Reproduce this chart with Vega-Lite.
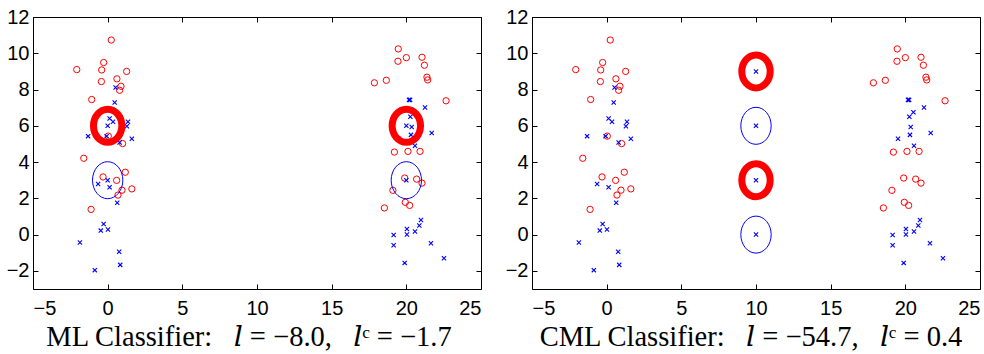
{
  "$schema": "https://vega.github.io/schema/vega-lite/v6.json",
  "padding": {"left": 5, "top": 6, "right": 6, "bottom": 1},
  "background": "white",
  "spacing": 22,
  "config": {
    "view": {"stroke": "black", "strokeWidth": 1},
    "axis": {
      "grid": false,
      "domain": false,
      "ticks": true,
      "tickColor": "black",
      "tickSize": -5,
      "labelFont": "Liberation Sans Narrow, Liberation Sans",
      "labelFontSize": 20,
      "labelColor": "black",
      "title": null
    },
    "title": {
      "font": "Liberation Serif, DejaVu Serif",
      "fontSize": 28.5,
      "fontWeight": "normal",
      "color": "black",
      "orient": "bottom",
      "anchor": "middle"
    }
  },
  "datasets": {
    "pts": [
      {"x": 0.24, "y": 10.73, "c": "o"}, {"x": -2.07, "y": 9.1, "c": "o"}, {"x": -0.27, "y": 9.49, "c": "o"},
      {"x": -0.4, "y": 9.08, "c": "o"}, {"x": 1.27, "y": 9.0, "c": "o"}, {"x": -0.42, "y": 8.44, "c": "o"},
      {"x": 0.62, "y": 8.59, "c": "o"}, {"x": 0.89, "y": 8.18, "c": "o"}, {"x": 0.8, "y": 7.96, "c": "o"},
      {"x": -1.07, "y": 7.45, "c": "o"}, {"x": 0.04, "y": 5.43, "c": "o"}, {"x": 1.0, "y": 5.02, "c": "o"},
      {"x": -1.6, "y": 4.21, "c": "o"}, {"x": 1.18, "y": 3.44, "c": "o"}, {"x": -0.31, "y": 3.18, "c": "o"},
      {"x": 0.6, "y": 2.99, "c": "o"}, {"x": 0.96, "y": 2.45, "c": "o"}, {"x": 0.69, "y": 2.18, "c": "o"},
      {"x": 1.62, "y": 2.52, "c": "o"}, {"x": -1.11, "y": 1.39, "c": "o"},
      {"x": 0.53, "y": 8.11, "c": "x"}, {"x": 0.47, "y": 7.28, "c": "x"}, {"x": 0.13, "y": 6.4, "c": "x"},
      {"x": 0.36, "y": 6.22, "c": "x"}, {"x": 1.36, "y": 6.22, "c": "x"}, {"x": 1.29, "y": 5.98, "c": "x"},
      {"x": -1.31, "y": 5.43, "c": "x"}, {"x": -0.07, "y": 5.43, "c": "x"}, {"x": 1.62, "y": 5.28, "c": "x"},
      {"x": 0.8, "y": 5.08, "c": "x"}, {"x": -0.64, "y": 2.79, "c": "x"}, {"x": 0.13, "y": 2.61, "c": "x"},
      {"x": 0.64, "y": 1.76, "c": "x"}, {"x": -0.27, "y": 0.59, "c": "x"}, {"x": -0.46, "y": 0.22, "c": "x"},
      {"x": 0.02, "y": 0.28, "c": "x"}, {"x": -1.86, "y": -0.44, "c": "x"}, {"x": 0.77, "y": -0.95, "c": "x"},
      {"x": 0.84, "y": -1.67, "c": "x"}, {"x": -0.86, "y": -1.96, "c": "x"},
      {"x": 19.46, "y": 10.24, "c": "o"}, {"x": 20.0, "y": 9.76, "c": "o"}, {"x": 19.44, "y": 9.56, "c": "o"},
      {"x": 21.05, "y": 9.78, "c": "o"}, {"x": 21.21, "y": 9.34, "c": "o"}, {"x": 21.38, "y": 8.68, "c": "o"},
      {"x": 21.43, "y": 8.53, "c": "o"}, {"x": 18.66, "y": 8.51, "c": "o"}, {"x": 17.86, "y": 8.37, "c": "o"},
      {"x": 22.66, "y": 7.38, "c": "o"}, {"x": 19.2, "y": 4.55, "c": "o"}, {"x": 20.11, "y": 4.59, "c": "o"},
      {"x": 20.92, "y": 4.59, "c": "o"}, {"x": 19.89, "y": 3.12, "c": "o"}, {"x": 20.69, "y": 3.06, "c": "o"},
      {"x": 21.05, "y": 2.84, "c": "o"}, {"x": 19.1, "y": 2.44, "c": "o"}, {"x": 19.93, "y": 1.78, "c": "o"},
      {"x": 20.22, "y": 1.61, "c": "o"}, {"x": 18.53, "y": 1.47, "c": "o"},
      {"x": 20.18, "y": 7.43, "c": "x"}, {"x": 20.25, "y": 7.43, "c": "x"}, {"x": 21.25, "y": 7.01, "c": "x"},
      {"x": 20.54, "y": 6.75, "c": "x"}, {"x": 20.27, "y": 6.5, "c": "x"}, {"x": 20.36, "y": 5.93, "c": "x"},
      {"x": 20.31, "y": 5.5, "c": "x"}, {"x": 21.7, "y": 5.6, "c": "x"}, {"x": 19.51, "y": 5.28, "c": "x"},
      {"x": 20.58, "y": 4.9, "c": "x"}, {"x": 20.98, "y": 0.81, "c": "x"}, {"x": 20.87, "y": 0.5, "c": "x"},
      {"x": 20.04, "y": 0.31, "c": "x"}, {"x": 20.58, "y": 0.17, "c": "x"}, {"x": 20.04, "y": 0.0, "c": "x"},
      {"x": 19.15, "y": -0.02, "c": "x"}, {"x": 19.15, "y": -0.59, "c": "x"}, {"x": 21.65, "y": -0.48, "c": "x"},
      {"x": 19.89, "y": -1.56, "c": "x"}, {"x": 22.52, "y": -1.3, "c": "x"}
    ],
    "centres": [
      {"panel": "ML", "x": 0, "y": 6, "c": "o"}, {"panel": "ML", "x": 20, "y": 6, "c": "o"},
      {"panel": "ML", "x": 0, "y": 3, "c": "x"}, {"panel": "ML", "x": 20, "y": 3, "c": "x"},
      {"panel": "CML", "x": 10, "y": 9, "c": "o"}, {"panel": "CML", "x": 10, "y": 3, "c": "o"},
      {"panel": "CML", "x": 10, "y": 6, "c": "x"}, {"panel": "CML", "x": 10, "y": 0, "c": "x"}
    ]
  },
  "hconcat": [
    {
      "width": 448,
      "height": 272,
      "title": {"text": "ML Classifier:\u2002 𝑙 = −8.0,\u2002 𝑙ᶜ = −1.7", "dx": -8, "offset": 5},
      "resolve": {"axis": {"x": "independent", "y": "independent"}},
      "layer": [
        {
          "data": {"name": "pts"},
          "transform": [{"filter": "datum.c === 'o'"}],
          "mark": {"type": "point", "shape": "circle", "filled": false, "stroke": "#ff0000", "strokeWidth": 1, "size": 40, "opacity": 1},
          "encoding": {
            "x": {"field": "x", "type": "quantitative", "scale": {"domain": [-5, 25], "nice": false, "zero": false}, "axis": {"orient": "bottom", "values": [-5, 0, 5, 10, 15, 20, 25], "labelPadding": 14}},
            "y": {"field": "y", "type": "quantitative", "scale": {"domain": [-3, 12], "nice": false, "zero": false}, "axis": {"orient": "left", "values": [-2, 0, 2, 4, 6, 8, 10, 12], "labelPadding": 9}}
          }
        },
        {
          "data": {"name": "pts"},
          "transform": [{"filter": "datum.c === 'x'"}],
          "mark": {"type": "point", "shape": "M-1,-1L1,1M-1,1L1,-1", "filled": false, "stroke": "#0000ff", "strokeWidth": 1.1, "size": 18, "opacity": 1},
          "encoding": {
            "x": {"field": "x", "type": "quantitative", "scale": {"domain": [-5, 25], "nice": false, "zero": false}, "axis": {"orient": "top", "values": [-5, 0, 5, 10, 15, 20, 25], "labels": false}},
            "y": {"field": "y", "type": "quantitative", "scale": {"domain": [-3, 12], "nice": false, "zero": false}, "axis": {"orient": "right", "values": [-2, 0, 2, 4, 6, 8, 10, 12], "labels": false}}
          }
        },
        {
          "data": {"name": "centres"},
          "transform": [{"filter": "datum.panel === 'ML' && datum.c === 'o'"}],
          "mark": {"type": "point", "shape": "M-0.86,0A0.86,1,0,1,0,0.86,0A0.86,1,0,1,0,-0.86,0Z", "filled": false, "stroke": "#ff0000", "strokeWidth": 7, "size": 1089, "opacity": 1},
          "encoding": {
            "x": {"field": "x", "type": "quantitative", "axis": null},
            "y": {"field": "y", "type": "quantitative", "axis": null}
          }
        },
        {
          "data": {"name": "centres"},
          "transform": [{"filter": "datum.panel === 'ML' && datum.c === 'x'"}],
          "mark": {"type": "point", "shape": "M-0.82,0A0.82,1,0,1,0,0.82,0A0.82,1,0,1,0,-0.82,0Z", "filled": false, "stroke": "#0000ff", "strokeWidth": 1, "size": 1369, "opacity": 1},
          "encoding": {
            "x": {"field": "x", "type": "quantitative", "axis": null},
            "y": {"field": "y", "type": "quantitative", "axis": null}
          }
        },
        {
          "data": {"name": "centres"},
          "transform": [{"filter": "datum.panel === 'ML'"}],
          "mark": {"type": "point", "shape": "M-1,-1L1,1M-1,1L1,-1", "filled": false, "stroke": "#0000ff", "strokeWidth": 1.1, "size": 18, "opacity": 1},
          "encoding": {
            "x": {"field": "x", "type": "quantitative", "axis": null},
            "y": {"field": "y", "type": "quantitative", "axis": null}
          }
        }
      ]
    },
    {
      "width": 448,
      "height": 272,
      "title": {"text": "CML Classifier:\u2002 𝑙 = −54.7,\u2002 𝑙ᶜ = 0.4", "dx": -5, "offset": 5},
      "resolve": {"axis": {"x": "independent", "y": "independent"}},
      "layer": [
        {
          "data": {"name": "pts"},
          "transform": [{"filter": "datum.c === 'o'"}],
          "mark": {"type": "point", "shape": "circle", "filled": false, "stroke": "#ff0000", "strokeWidth": 1, "size": 40, "opacity": 1},
          "encoding": {
            "x": {"field": "x", "type": "quantitative", "scale": {"domain": [-5, 25], "nice": false, "zero": false}, "axis": {"orient": "bottom", "values": [-5, 0, 5, 10, 15, 20, 25], "labelPadding": 14}},
            "y": {"field": "y", "type": "quantitative", "scale": {"domain": [-3, 12], "nice": false, "zero": false}, "axis": {"orient": "left", "values": [-2, 0, 2, 4, 6, 8, 10, 12], "labelPadding": 9}}
          }
        },
        {
          "data": {"name": "pts"},
          "transform": [{"filter": "datum.c === 'x'"}],
          "mark": {"type": "point", "shape": "M-1,-1L1,1M-1,1L1,-1", "filled": false, "stroke": "#0000ff", "strokeWidth": 1.1, "size": 18, "opacity": 1},
          "encoding": {
            "x": {"field": "x", "type": "quantitative", "scale": {"domain": [-5, 25], "nice": false, "zero": false}, "axis": {"orient": "top", "values": [-5, 0, 5, 10, 15, 20, 25], "labels": false}},
            "y": {"field": "y", "type": "quantitative", "scale": {"domain": [-3, 12], "nice": false, "zero": false}, "axis": {"orient": "right", "values": [-2, 0, 2, 4, 6, 8, 10, 12], "labels": false}}
          }
        },
        {
          "data": {"name": "centres"},
          "transform": [{"filter": "datum.panel === 'CML' && datum.c === 'o'"}],
          "mark": {"type": "point", "shape": "M-0.86,0A0.86,1,0,1,0,0.86,0A0.86,1,0,1,0,-0.86,0Z", "filled": false, "stroke": "#ff0000", "strokeWidth": 7, "size": 1089, "opacity": 1},
          "encoding": {
            "x": {"field": "x", "type": "quantitative", "axis": null},
            "y": {"field": "y", "type": "quantitative", "axis": null}
          }
        },
        {
          "data": {"name": "centres"},
          "transform": [{"filter": "datum.panel === 'CML' && datum.c === 'x'"}],
          "mark": {"type": "point", "shape": "M-0.82,0A0.82,1,0,1,0,0.82,0A0.82,1,0,1,0,-0.82,0Z", "filled": false, "stroke": "#0000ff", "strokeWidth": 1, "size": 1369, "opacity": 1},
          "encoding": {
            "x": {"field": "x", "type": "quantitative", "axis": null},
            "y": {"field": "y", "type": "quantitative", "axis": null}
          }
        },
        {
          "data": {"name": "centres"},
          "transform": [{"filter": "datum.panel === 'CML'"}],
          "mark": {"type": "point", "shape": "M-1,-1L1,1M-1,1L1,-1", "filled": false, "stroke": "#0000ff", "strokeWidth": 1.1, "size": 18, "opacity": 1},
          "encoding": {
            "x": {"field": "x", "type": "quantitative", "axis": null},
            "y": {"field": "y", "type": "quantitative", "axis": null}
          }
        }
      ]
    }
  ]
}
